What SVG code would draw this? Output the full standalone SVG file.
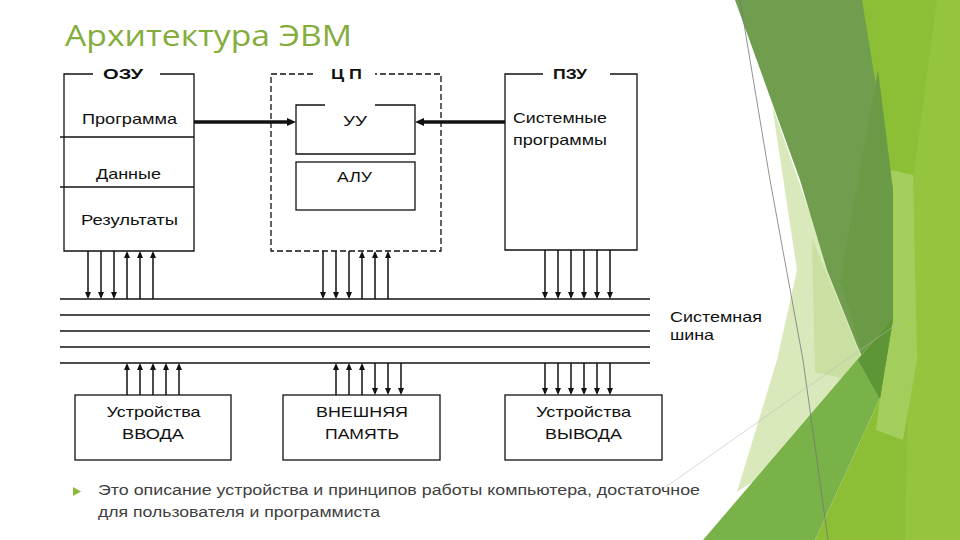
<svg xmlns="http://www.w3.org/2000/svg" width="960" height="540" viewBox="0 0 960 540">
<style>
.box{fill:none;stroke:#111;stroke-width:1.3}
.dash{fill:none;stroke:#111;stroke-width:1.3;stroke-dasharray:6 3}
.lbl{font-family:"Liberation Sans",Arial,sans-serif;font-size:15px;fill:#111}
.ttl{font-family:"Liberation Sans",Arial,sans-serif;font-size:15px;font-weight:bold;fill:#111}
.bus{stroke:#111;stroke-width:1.3}
.ar{stroke:#111;stroke-width:1.5;fill:none}
.tk{stroke:#111;stroke-width:3.5;fill:none}
.note{font-family:"Liberation Sans",Arial,sans-serif;font-size:14px;fill:#404040}
</style>
<defs>
<marker id="ah" viewBox="0 0 7 6" refX="5" refY="3" markerWidth="7" markerHeight="6" markerUnits="userSpaceOnUse" orient="auto"><path d="M0,0 L7,3 L0,6 z" fill="#111"/></marker>
<marker id="ahb" viewBox="0 0 9 8" refX="3" refY="4" markerWidth="9" markerHeight="8" markerUnits="userSpaceOnUse" orient="auto"><path d="M0,0 L9,4 L0,8 z" fill="#111"/></marker>
</defs>
<rect width="960" height="540" fill="#fff"/>
<g id="background">
<polygon fill="#8CBF35" points="858,0 960,0 960,540 815,540 880,398 893,200"/>
<polygon fill="#95C53F" points="937,0 960,0 960,540 905,540 913,180"/>
<polygon fill="#A4CE5C" points="891,170 913,175 917,360 903,440 876,430 880,398 893,320"/>
<polygon fill="#D9E9BB" points="772,105 830,270 880,398 737,492 777,360 797,270"/>
<polygon fill="#CADFA2" points="812,238 862,360 850,380 815,372"/>
<polygon fill="#709E4E" points="735,0 862,0 893,190 893,320 880,398 857,345 827,270 800,180"/>
<polygon fill="#6A9A46" points="878,70 893,190 893,320 862,352 840,280"/>
<polygon fill="#79B249" points="703,540 857,360 893,318 880,398 815,540"/>
<polygon fill="#5E9536" points="858,360 893,318 880,399"/>
<polyline points="740,0 770,180 803,360 828,540" fill="none" stroke="#777" stroke-width="0.8"/>
<line x1="660" y1="491" x2="900" y2="322" stroke="#bbb" stroke-width="0.8" opacity="0.7"/>
</g>
<text x="65" y="46" font-family="'Open Sans','Liberation Sans',sans-serif" font-size="29" fill="#84AD3C" textLength="287" lengthAdjust="spacingAndGlyphs">Архитектура ЭВМ</text>
<g id="ozu">
<path class="box" d="M93,74 H64 V251 H194 V74 H160"/>
<line class="box" x1="60" y1="137" x2="194" y2="137"/>
<line class="box" x1="60" y1="187" x2="194" y2="187"/>
<text class="ttl" x="103" y="78.5" textLength="40" lengthAdjust="spacingAndGlyphs">ОЗУ</text>
<text class="lbl" x="82" y="124" textLength="95" lengthAdjust="spacingAndGlyphs">Программа</text>
<text class="lbl" x="96" y="179" textLength="65" lengthAdjust="spacingAndGlyphs">Данные</text>
<text class="lbl" x="81" y="224.5" textLength="97" lengthAdjust="spacingAndGlyphs">Результаты</text>
</g>
<g id="cpu">
<path class="dash" d="M313,74 H271 V251 H441 V74 H375"/>
<text class="ttl" x="331" y="78.5" textLength="31" lengthAdjust="spacingAndGlyphs">Ц П</text>
</g>
<g id="uu">
<path class="box" d="M325,105 H296 V154 H415 V105 H375"/>
<text class="lbl" x="343" y="125.5" textLength="24" lengthAdjust="spacingAndGlyphs">УУ</text>
</g>
<g id="alu">
<rect class="box" x="296" y="162" width="119" height="48"/>
<text class="lbl" x="337" y="182" textLength="35" lengthAdjust="spacingAndGlyphs">АЛУ</text>
</g>
<g id="pzu">
<path class="box" d="M543,74 H505 V250 H637 V74 H610"/>
<text class="ttl" x="553" y="78.5" textLength="34" lengthAdjust="spacingAndGlyphs">ПЗУ</text>
<text class="lbl" x="513" y="123" textLength="94" lengthAdjust="spacingAndGlyphs">Системные</text>
<text class="lbl" x="513" y="145" textLength="94" lengthAdjust="spacingAndGlyphs">программы</text>
</g>
<g id="bus">
<line class="bus" x1="60" y1="299" x2="650" y2="299"/>
<line class="bus" x1="60" y1="315" x2="650" y2="315"/>
<line class="bus" x1="60" y1="331" x2="650" y2="331"/>
<line class="bus" x1="60" y1="347" x2="650" y2="347"/>
<line class="bus" x1="60" y1="363" x2="650" y2="363"/>
<text class="lbl" x="670" y="322" textLength="92" lengthAdjust="spacingAndGlyphs">Системная</text>
<text class="lbl" x="670" y="339.5" textLength="44" lengthAdjust="spacingAndGlyphs">шина</text>
</g>
<g id="input">
<rect class="box" x="75" y="395" width="156" height="65"/>
<text class="lbl" x="106.5" y="417" textLength="94" lengthAdjust="spacingAndGlyphs">Устройства</text>
<text class="lbl" x="122" y="439" textLength="62" lengthAdjust="spacingAndGlyphs">ВВОДА</text>
</g>
<g id="extmem">
<rect class="box" x="283" y="395" width="157" height="65"/>
<text class="lbl" x="316" y="417" textLength="92" lengthAdjust="spacingAndGlyphs">ВНЕШНЯЯ</text>
<text class="lbl" x="325" y="439" textLength="74" lengthAdjust="spacingAndGlyphs">ПАМЯТЬ</text>
</g>
<g id="output">
<rect class="box" x="505" y="395" width="157" height="65"/>
<text class="lbl" x="536" y="417" textLength="95" lengthAdjust="spacingAndGlyphs">Устройства</text>
<text class="lbl" x="545" y="439" textLength="77" lengthAdjust="spacingAndGlyphs">ВЫВОДА</text>
</g>
<g id="connectors">
<line class="tk" x1="194" y1="122" x2="290" y2="122" marker-end="url(#ahb)"/>
<line class="tk" x1="505" y1="122" x2="421" y2="122" marker-end="url(#ahb)"/>
<line class="ar" x1="88" y1="251" x2="88" y2="297" marker-end="url(#ah)"/>
<line class="ar" x1="101" y1="251" x2="101" y2="297" marker-end="url(#ah)"/>
<line class="ar" x1="114" y1="251" x2="114" y2="297" marker-end="url(#ah)"/>
<line class="ar" x1="127" y1="299" x2="127" y2="253" marker-end="url(#ah)"/>
<line class="ar" x1="140" y1="299" x2="140" y2="253" marker-end="url(#ah)"/>
<line class="ar" x1="153" y1="299" x2="153" y2="253" marker-end="url(#ah)"/>
<line class="ar" x1="323" y1="251" x2="323" y2="297" marker-end="url(#ah)"/>
<line class="ar" x1="336" y1="251" x2="336" y2="297" marker-end="url(#ah)"/>
<line class="ar" x1="349" y1="251" x2="349" y2="297" marker-end="url(#ah)"/>
<line class="ar" x1="362" y1="299" x2="362" y2="253" marker-end="url(#ah)"/>
<line class="ar" x1="375" y1="299" x2="375" y2="253" marker-end="url(#ah)"/>
<line class="ar" x1="388" y1="299" x2="388" y2="253" marker-end="url(#ah)"/>
<line class="ar" x1="545" y1="250" x2="545" y2="297" marker-end="url(#ah)"/>
<line class="ar" x1="558" y1="250" x2="558" y2="297" marker-end="url(#ah)"/>
<line class="ar" x1="571" y1="250" x2="571" y2="297" marker-end="url(#ah)"/>
<line class="ar" x1="584" y1="250" x2="584" y2="297" marker-end="url(#ah)"/>
<line class="ar" x1="597" y1="250" x2="597" y2="297" marker-end="url(#ah)"/>
<line class="ar" x1="610" y1="250" x2="610" y2="297" marker-end="url(#ah)"/>
<line class="ar" x1="127" y1="395" x2="127" y2="365" marker-end="url(#ah)"/>
<line class="ar" x1="140" y1="395" x2="140" y2="365" marker-end="url(#ah)"/>
<line class="ar" x1="153" y1="395" x2="153" y2="365" marker-end="url(#ah)"/>
<line class="ar" x1="166" y1="395" x2="166" y2="365" marker-end="url(#ah)"/>
<line class="ar" x1="179" y1="395" x2="179" y2="365" marker-end="url(#ah)"/>
<line class="ar" x1="336" y1="395" x2="336" y2="365" marker-end="url(#ah)"/>
<line class="ar" x1="349" y1="395" x2="349" y2="365" marker-end="url(#ah)"/>
<line class="ar" x1="362" y1="395" x2="362" y2="365" marker-end="url(#ah)"/>
<line class="ar" x1="375" y1="363" x2="375" y2="393" marker-end="url(#ah)"/>
<line class="ar" x1="388" y1="363" x2="388" y2="393" marker-end="url(#ah)"/>
<line class="ar" x1="401" y1="363" x2="401" y2="393" marker-end="url(#ah)"/>
<line class="ar" x1="545" y1="363" x2="545" y2="393" marker-end="url(#ah)"/>
<line class="ar" x1="558" y1="363" x2="558" y2="393" marker-end="url(#ah)"/>
<line class="ar" x1="571" y1="363" x2="571" y2="393" marker-end="url(#ah)"/>
<line class="ar" x1="584" y1="363" x2="584" y2="393" marker-end="url(#ah)"/>
<line class="ar" x1="597" y1="363" x2="597" y2="393" marker-end="url(#ah)"/>
<line class="ar" x1="610" y1="363" x2="610" y2="393" marker-end="url(#ah)"/>
</g>
<g id="note">
<polygon points="73,487 81,491.5 73,496" fill="#8DB83A"/>
<text class="note" x="98" y="495" textLength="602" lengthAdjust="spacingAndGlyphs">Это описание устройства и принципов работы компьютера, достаточное</text>
<text class="note" x="98" y="517" textLength="282" lengthAdjust="spacingAndGlyphs">для пользователя и программиста</text>
</g>
</svg>
